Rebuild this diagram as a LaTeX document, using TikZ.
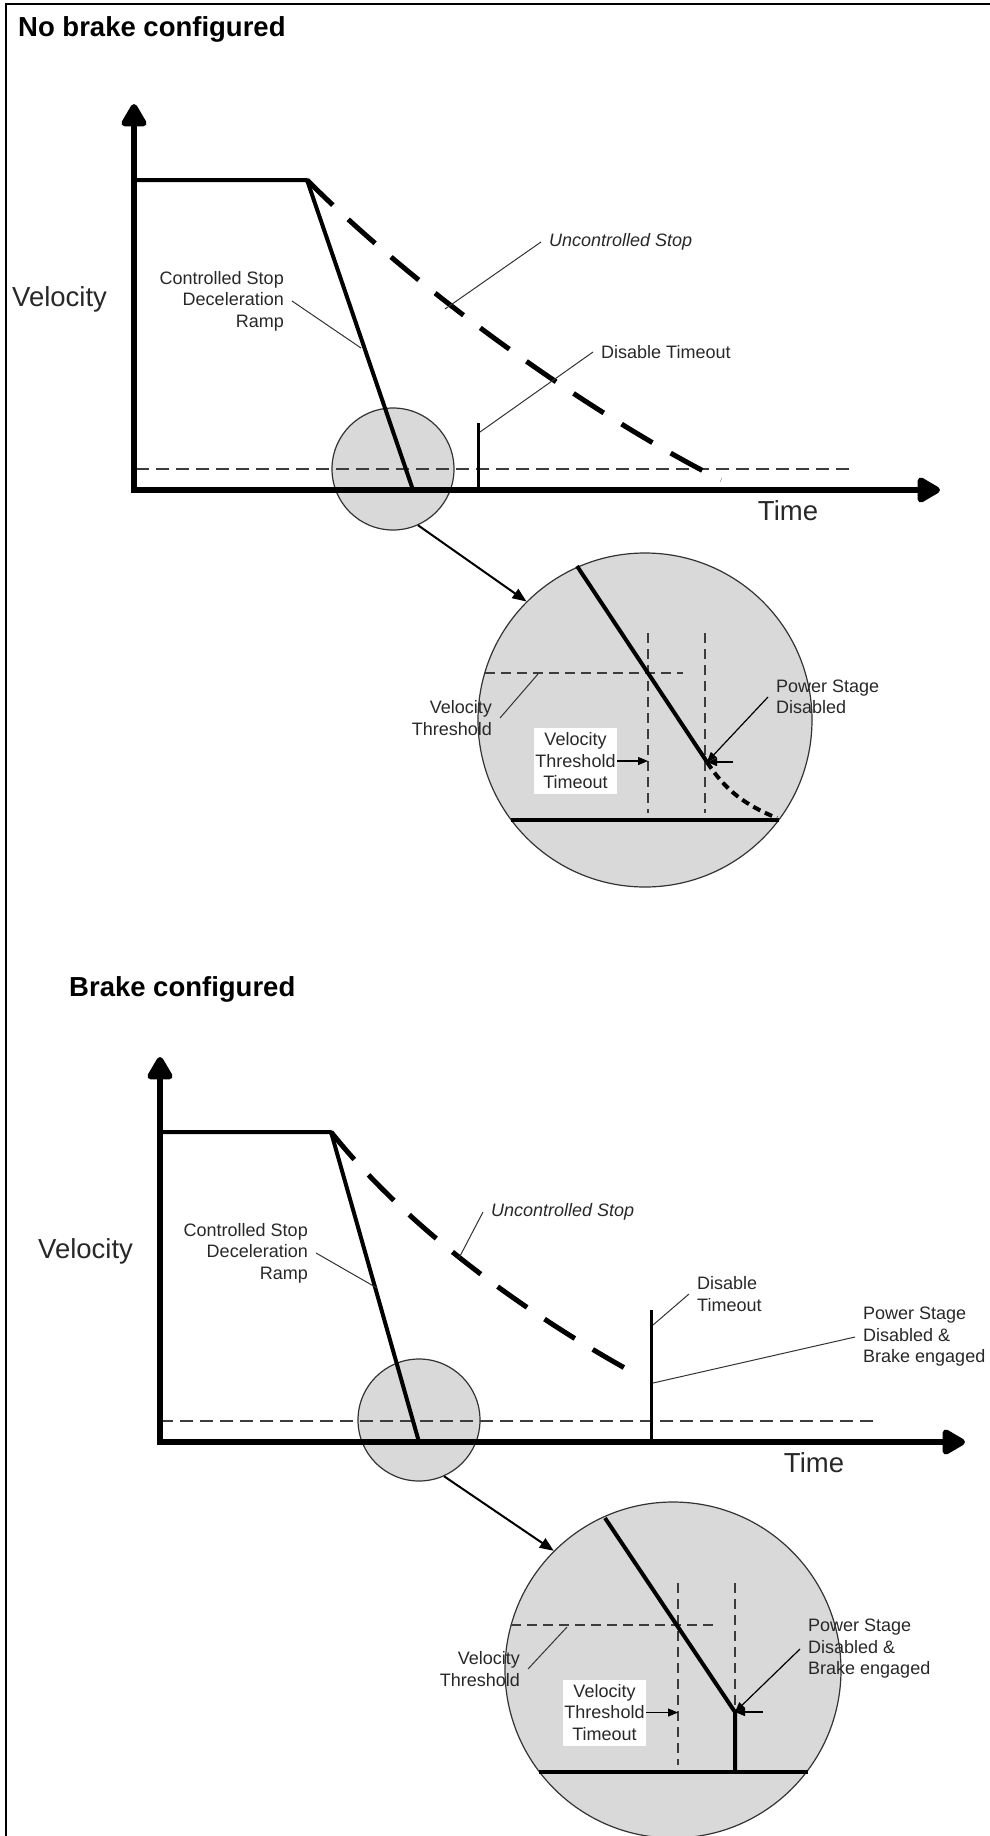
\documentclass[tikz,border=0pt]{standalone}
\usepackage{fontspec}
\setmainfont{Liberation Sans}
\usepackage{tikz}
\usetikzlibrary{arrows.meta}
\definecolor{lensgray}{RGB}{217,217,217}
\definecolor{guidegray}{RGB}{60,60,60}
\definecolor{textgray}{RGB}{40,40,40}

\begin{document}
\begin{tikzpicture}[x=1pt, y=-1pt,
  vaxis/.style={line width=6.5pt, line join=miter, >={Triangle[width=28pt,length=26pt,round]}, <->},
  profile/.style={line width=4pt, line join=round},
  freerun/.style={line width=5pt, dash pattern=on 36pt off 21pt},
  threshold/.style={line width=1.8pt, guidegray, dash pattern=on 13pt off 7pt},
  guide/.style={line width=1.5pt, guidegray, dash pattern=on 10pt off 6pt},
  leader/.style={line width=1pt, black!80},
  pointer/.style={line width=1.2pt, -{Triangle[width=8pt,length=10pt]}},
  zoomarrow/.style={line width=2pt, -{Triangle[width=11pt,length=14pt]}},
  lens/.style={circle, draw=black!80, line width=1.2pt, fill=lensgray, inner sep=0pt},
  lbl/.style={font=\fontsize{18}{21.5}\selectfont, text=textgray, inner xsep=8pt, inner ysep=2pt},
  tag/.style={fill=white, inner sep=0pt, minimum width=83pt, minimum height=66pt, align=center,
    font=\fontsize{18}{21.5}\selectfont, text=textgray},
  axlbl/.style={font=\fontsize{27.5}{32}\selectfont, text=textgray, inner sep=0pt},
  heading/.style={font=\bfseries\fontsize{27.5}{32}\selectfont, inner sep=0pt}]

  \useasboundingbox (0,0) rectangle (990,1836);
  \draw[line width=1.5pt] (6,1836) -- (6,4) -- (990,4);

  % ---------------- no brake ----------------
  \node[heading, anchor=west] (head1) at (18,29) {No brake configured};

  % zoom circles below everything
  \node[lens, minimum size=122pt] (lensA) at (393,469) {};
  \node[lens, minimum size=334pt] (bigA) at (645,720) {};

  \draw[threshold] (136,469) -- (852,469);
  \draw[vaxis] (134,104) -- (134,490) -- (940,490);

  \coordinate (brk1) at (307,180);
  \coordinate (stop1) at (413,490);
  \draw[profile] (134,180) -- (brk1) -- (stop1);
  \draw[freerun] (brk1) .. controls (427,300) and (601,420) .. (721,480);
  \draw[line width=3pt] (478,490) -- (478,423);

  \node[axlbl, anchor=west] (vel1) at (12,299) {Velocity};
  \node[axlbl] (time1) at (788,511) {Time};

  % labels
  \node[lbl, anchor=east, align=right] (ctl1) at (292,301) {Controlled Stop\\Deceleration\\Ramp};
  \coordinate (ctlpt1) at (361,348);
  \draw[leader] (ctl1.east) -- (ctlpt1);
  \node[lbl, anchor=west] (unc1) at (541,242) {\itshape Uncontrolled Stop};
  \coordinate (uncpt1) at (445,309);
  \draw[leader] (unc1.west) -- (uncpt1);
  \node[lbl, anchor=west] (dis1) at (593,352) {Disable Timeout};
  \coordinate (dispt1) at (480,432);
  \draw[leader] (dis1.west) -- (dispt1);

  % detail
  \coordinate (vth1) at (648,673);
  \coordinate (off1) at (707,762);
  \draw[guide] (648,633) -- (648,813);
  \draw[guide] (705,633) -- (705,813);
  \draw[guide] (485,673) -- (683,673);
  \draw[profile] (577,566) -- (off1);
  \draw[line width=4pt, dash pattern=on 8pt off 5pt] (off1) .. controls (725,790) and (745,805) .. (777,818);
  \draw[profile] (511,820) -- (779,820);

  \node[lbl, anchor=east, align=right] (vtl1) at (500,718) {Velocity\\Threshold};
  \draw[leader] (vtl1.east) -- (538,674);
  \node[tag] (vtt1) at (575.5,761) {Velocity\\Threshold\\Timeout};
  \draw[pointer] (vtt1.east) -- (vtt1.east -| vth1);
  \node[lbl, anchor=west, align=left] (pwr1) at (768,697) {Power Stage\\Disabled};
  \draw[pointer] (pwr1.west) -- (off1);
  \draw[pointer] ([xshift=26pt]off1) -- (off1);

  \draw[zoomarrow] (lensA.-66) -- (bigA.135);

  % ---------------- brake ----------------
  \node[heading, anchor=west] (head2) at (69,989) {Brake configured};

  \node[lens, minimum size=122pt] (lensB) at (419,1420) {};
  \node[lens, minimum size=336pt] (bigB) at (673,1670) {};

  \draw[threshold] (160,1421) -- (878,1421);
  \draw[vaxis] (160,1057) -- (160,1442) -- (965,1442);

  \coordinate (brk2) at (331,1132);
  \coordinate (stop2) at (419,1442);
  \draw[profile] (160,1132) -- (brk2) -- (stop2);
  \draw[freerun] (brk2) .. controls (411,1232) and (531,1317) .. (641,1377);
  \draw[line width=3pt] (651,1442) -- (651,1310);

  \node[axlbl, anchor=west] (vel2) at (38,1251) {Velocity};
  \node[axlbl] (time2) at (814,1463) {Time};

  \node[lbl, anchor=east, align=right] (ctl2) at (316,1253) {Controlled Stop\\Deceleration\\Ramp};
  \coordinate (ctlpt2) at (377,1288);
  \draw[leader] (ctl2.east) -- (ctlpt2);
  \node[lbl, anchor=west] (unc2) at (483,1212) {\itshape Uncontrolled Stop};
  \coordinate (uncpt2) at (459,1258);
  \draw[leader] (unc2.west) -- (uncpt2);
  \node[lbl, anchor=west, align=left] (dis2) at (689,1294) {Disable\\Timeout};
  \coordinate (dispt2) at (653,1325);
  \draw[leader] (dis2.west) -- (dispt2);
  \node[lbl, anchor=west, align=left] (pwr2) at (855,1337) {Power Stage\\Disabled \&\\Brake engaged};
  \coordinate (pwrpt2) at (653,1383);
  \draw[leader] (pwr2.west) -- (pwrpt2);

  % detail
  \coordinate (vth2) at (678,1625);
  \coordinate (off2) at (735,1712);
  \draw[guide] (678,1583) -- (678,1765);
  \draw[guide] (735,1583) -- (735,1712);
  \draw[guide] (511,1625) -- (714,1625);
  \draw[profile] (605,1518) -- (off2) -- (735,1772);
  \draw[profile] (539,1772) -- (808,1772);

  \node[lbl, anchor=east, align=right] (vtl2) at (528,1669) {Velocity\\Threshold};
  \draw[leader] (vtl2.east) -- (567,1627);
  \node[tag] (vtt2) at (604.5,1712.5) {Velocity\\Threshold\\Timeout};
  \draw[pointer] (vtt2.east) -- (vtt2.east -| vth2);
  \node[lbl, anchor=west, align=left] (pwr3) at (800,1649) {Power Stage\\Disabled \&\\Brake engaged};
  \draw[pointer] (pwr3.west) -- (off2);
  \draw[pointer] ([xshift=28pt]off2) -- (off2);

  \draw[zoomarrow] (lensB.-66) -- (bigB.135);
\end{tikzpicture}
\end{document}
